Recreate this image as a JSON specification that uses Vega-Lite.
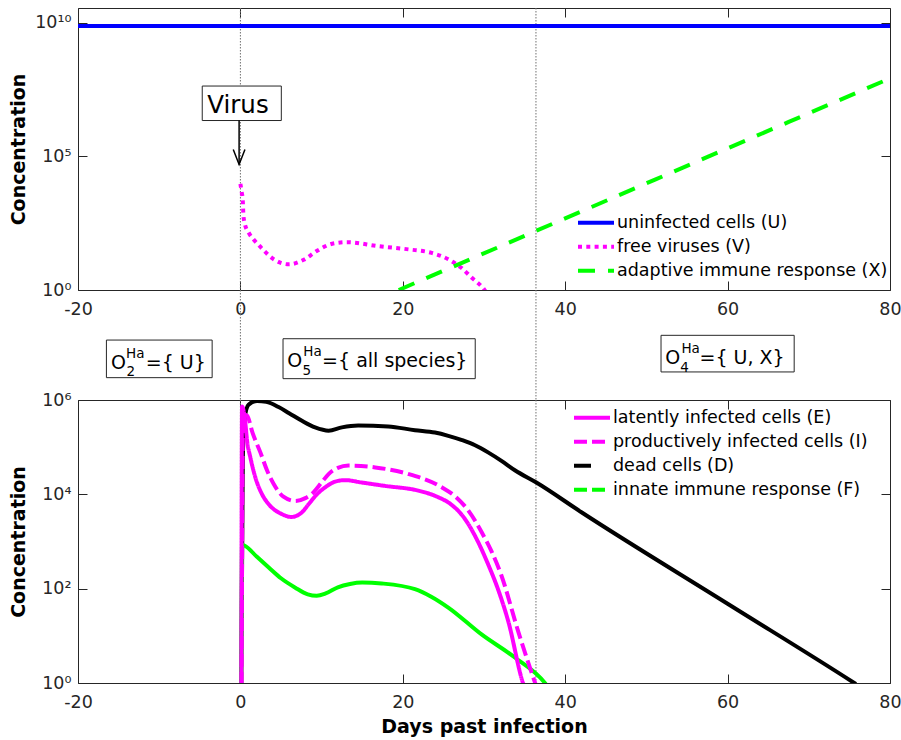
{
  "$schema": "https://vega.github.io/schema/vega-lite/v6.json",
  "autosize": {"type": "pad"},
  "padding": {"left": 8, "top": 7, "right": 5, "bottom": 5},
  "config": {
    "font": "DejaVu Sans",
    "view": {"stroke": "#262626", "strokeWidth": 1},
    "axis": {
      "grid": false, "domain": false, "tickColor": "#262626", "tickSize": -9, "tickWidth": 1,
      "labelColor": "#262626", "labelFontSize": 17.5, "labelFont": "DejaVu Sans",
      "titleFont": "DejaVu Sans", "titleFontSize": 19, "titleFontWeight": "bold", "titleColor": "#000000",
      "labelFlush": false, "labelOverlap": false
    },
    "legend": {
      "orient": "none", "symbolType": "stroke", "symbolSize": 1296, "symbolStrokeWidth": 4,
      "labelFontSize": 17.5, "labelColor": "#000000", "labelFont": "DejaVu Sans", "rowPadding": 0,
      "clipHeight": 23.3,
      "labelOffset": 1, "padding": 0, "labelLimit": 400, "titlePadding": 0
    }
  },
  "datasets": {
    "rules": [{"t": 0}, {"t": 36.4}],
    "top": [
      {"s": "uninfected cells (U)", "t": -20, "v": 7600000000},
      {"s": "uninfected cells (U)", "t": 30, "v": 7600000000},
      {"s": "uninfected cells (U)", "t": 80, "v": 7600000000},
      {"s": "free viruses (V)", "t": 0.0, "v": 9333},
      {"s": "free viruses (V)", "t": 0.17, "v": 4365},
      {"s": "free viruses (V)", "t": 0.29, "v": 2291},
      {"s": "free viruses (V)", "t": 0.37, "v": 631},
      {"s": "free viruses (V)", "t": 0.54, "v": 302},
      {"s": "free viruses (V)", "t": 1.03, "v": 138},
      {"s": "free viruses (V)", "t": 1.6, "v": 79.4},
      {"s": "free viruses (V)", "t": 2.17, "v": 51.3},
      {"s": "free viruses (V)", "t": 2.75, "v": 33.1},
      {"s": "free viruses (V)", "t": 4.2, "v": 13.5},
      {"s": "free viruses (V)", "t": 5.95, "v": 9.12},
      {"s": "free viruses (V)", "t": 7.8, "v": 13.5},
      {"s": "free viruses (V)", "t": 9.4, "v": 28.8},
      {"s": "free viruses (V)", "t": 11.3, "v": 53.7},
      {"s": "free viruses (V)", "t": 13.1, "v": 61.7},
      {"s": "free viruses (V)", "t": 17.0, "v": 43.6},
      {"s": "free viruses (V)", "t": 20.7, "v": 33.1},
      {"s": "free viruses (V)", "t": 23.55, "v": 24.5},
      {"s": "free viruses (V)", "t": 25.6, "v": 14.1},
      {"s": "free viruses (V)", "t": 27.2, "v": 6.76},
      {"s": "free viruses (V)", "t": 28.5, "v": 2.88},
      {"s": "free viruses (V)", "t": 30.0, "v": 1.07},
      {"s": "free viruses (V)", "t": 30.3, "v": 0.8},
      {"s": "adaptive immune response (X)", "t": 19.5, "v": 1},
      {"s": "adaptive immune response (X)", "t": 40, "v": 479},
      {"s": "adaptive immune response (X)", "t": 60, "v": 200000},
      {"s": "adaptive immune response (X)", "t": 80, "v": 83000000}
    ],
    "bottomSolid": [
      {"s": "dead cells (D)", "t": 0.1, "v": 0.9},
      {"s": "dead cells (D)", "t": 0.3, "v": 63000},
      {"s": "dead cells (D)", "t": 0.54, "v": 427000},
      {"s": "dead cells (D)", "t": 1.0, "v": 794000},
      {"s": "dead cells (D)", "t": 2.05, "v": 955000},
      {"s": "dead cells (D)", "t": 3.2, "v": 912000},
      {"s": "dead cells (D)", "t": 4.7, "v": 708000},
      {"s": "dead cells (D)", "t": 6.0, "v": 525000},
      {"s": "dead cells (D)", "t": 7.58, "v": 363000},
      {"s": "dead cells (D)", "t": 9.2, "v": 263000},
      {"s": "dead cells (D)", "t": 10.86, "v": 224000},
      {"s": "dead cells (D)", "t": 12.5, "v": 263000},
      {"s": "dead cells (D)", "t": 14.5, "v": 288000},
      {"s": "dead cells (D)", "t": 18.2, "v": 275000},
      {"s": "dead cells (D)", "t": 21.5, "v": 229000},
      {"s": "dead cells (D)", "t": 23.96, "v": 204000},
      {"s": "dead cells (D)", "t": 25.6, "v": 174000},
      {"s": "dead cells (D)", "t": 27.3, "v": 141000},
      {"s": "dead cells (D)", "t": 28.9, "v": 110000},
      {"s": "dead cells (D)", "t": 30.5, "v": 77600},
      {"s": "dead cells (D)", "t": 32.15, "v": 51300},
      {"s": "dead cells (D)", "t": 33.8, "v": 32400},
      {"s": "dead cells (D)", "t": 36.45, "v": 17800},
      {"s": "dead cells (D)", "t": 42, "v": 4170},
      {"s": "dead cells (D)", "t": 60, "v": 47.9},
      {"s": "dead cells (D)", "t": 75.6, "v": 1},
      {"s": "dead cells (D)", "t": 75.8, "v": 0.95},
      {"s": "innate immune response (F)", "t": 0.1, "v": 0.9},
      {"s": "innate immune response (F)", "t": 0.2, "v": 851},
      {"s": "innate immune response (F)", "t": 0.54, "v": 813},
      {"s": "innate immune response (F)", "t": 2.0, "v": 479},
      {"s": "innate immune response (F)", "t": 3.49, "v": 282},
      {"s": "innate immune response (F)", "t": 5.0, "v": 166},
      {"s": "innate immune response (F)", "t": 6.76, "v": 105},
      {"s": "innate immune response (F)", "t": 8.3, "v": 75.9},
      {"s": "innate immune response (F)", "t": 9.4, "v": 70.8},
      {"s": "innate immune response (F)", "t": 10.5, "v": 79.4},
      {"s": "innate immune response (F)", "t": 12.0, "v": 107},
      {"s": "innate immune response (F)", "t": 13.5, "v": 126},
      {"s": "innate immune response (F)", "t": 15.0, "v": 135},
      {"s": "innate immune response (F)", "t": 17.4, "v": 129},
      {"s": "innate immune response (F)", "t": 21.5, "v": 97.7},
      {"s": "innate immune response (F)", "t": 23.5, "v": 67.6},
      {"s": "innate immune response (F)", "t": 25.6, "v": 39.8},
      {"s": "innate immune response (F)", "t": 29.7, "v": 10.7},
      {"s": "innate immune response (F)", "t": 33.8, "v": 3.47},
      {"s": "innate immune response (F)", "t": 37.5, "v": 1},
      {"s": "innate immune response (F)", "t": 37.7, "v": 0.9}
    ],
    "bottomDashed": [
      {"s": "productively infected cells (I)", "t": 0.14, "v": 0.9},
      {"s": "productively infected cells (I)", "t": 0.35, "v": 500000},
      {"s": "productively infected cells (I)", "t": 0.82, "v": 468000},
      {"s": "productively infected cells (I)", "t": 1.5, "v": 200000},
      {"s": "productively infected cells (I)", "t": 2.46, "v": 77600},
      {"s": "productively infected cells (I)", "t": 3.3, "v": 31600},
      {"s": "productively infected cells (I)", "t": 4.1, "v": 16600},
      {"s": "productively infected cells (I)", "t": 5.3, "v": 8913},
      {"s": "productively infected cells (I)", "t": 6.76, "v": 7244},
      {"s": "productively infected cells (I)", "t": 8.0, "v": 8318},
      {"s": "productively infected cells (I)", "t": 8.8, "v": 10200},
      {"s": "productively infected cells (I)", "t": 10.0, "v": 17800},
      {"s": "productively infected cells (I)", "t": 10.86, "v": 26900},
      {"s": "productively infected cells (I)", "t": 12.0, "v": 36300},
      {"s": "productively infected cells (I)", "t": 13.3, "v": 40700},
      {"s": "productively infected cells (I)", "t": 16.6, "v": 37200},
      {"s": "productively infected cells (I)", "t": 20.7, "v": 26900},
      {"s": "productively infected cells (I)", "t": 24.8, "v": 14100},
      {"s": "productively infected cells (I)", "t": 26.5, "v": 8900},
      {"s": "productively infected cells (I)", "t": 28.1, "v": 4467},
      {"s": "productively infected cells (I)", "t": 29.7, "v": 1585},
      {"s": "productively infected cells (I)", "t": 30.9, "v": 631},
      {"s": "productively infected cells (I)", "t": 32.1, "v": 200},
      {"s": "productively infected cells (I)", "t": 34.2, "v": 12.6},
      {"s": "productively infected cells (I)", "t": 36.3, "v": 1},
      {"s": "productively infected cells (I)", "t": 36.5, "v": 0.8},
      {"s": "latently infected cells (E)", "t": 0.12, "v": 0.9},
      {"s": "latently infected cells (E)", "t": 0.2, "v": 724000},
      {"s": "latently infected cells (E)", "t": 0.62, "v": 309000},
      {"s": "latently infected cells (E)", "t": 0.82, "v": 138000},
      {"s": "latently infected cells (E)", "t": 1.23, "v": 60300},
      {"s": "latently infected cells (E)", "t": 1.84, "v": 22900},
      {"s": "latently infected cells (E)", "t": 2.67, "v": 10000},
      {"s": "latently infected cells (E)", "t": 3.49, "v": 6166},
      {"s": "latently infected cells (E)", "t": 5.12, "v": 3802},
      {"s": "latently infected cells (E)", "t": 6.27, "v": 3311},
      {"s": "latently infected cells (E)", "t": 7.58, "v": 4169},
      {"s": "latently infected cells (E)", "t": 8.4, "v": 6166},
      {"s": "latently infected cells (E)", "t": 9.42, "v": 10000},
      {"s": "latently infected cells (E)", "t": 10.44, "v": 14100},
      {"s": "latently infected cells (E)", "t": 11.67, "v": 18600},
      {"s": "latently infected cells (E)", "t": 12.9, "v": 20000},
      {"s": "latently infected cells (E)", "t": 14.95, "v": 17800},
      {"s": "latently infected cells (E)", "t": 17.8, "v": 15100},
      {"s": "latently infected cells (E)", "t": 21.9, "v": 12000},
      {"s": "latently infected cells (E)", "t": 23.96, "v": 9300},
      {"s": "latently infected cells (E)", "t": 26.0, "v": 6000},
      {"s": "latently infected cells (E)", "t": 27.2, "v": 3800},
      {"s": "latently infected cells (E)", "t": 28.06, "v": 2350},
      {"s": "latently infected cells (E)", "t": 29.3, "v": 955},
      {"s": "latently infected cells (E)", "t": 30.5, "v": 331},
      {"s": "latently infected cells (E)", "t": 31.7, "v": 100},
      {"s": "latently infected cells (E)", "t": 33.0, "v": 20},
      {"s": "latently infected cells (E)", "t": 34.8, "v": 1},
      {"s": "latently infected cells (E)", "t": 35.0, "v": 0.8}
    ],
    "virusBox": [{"x1": -4.7, "x2": 5.04, "y1": 42700000, "y2": 2190000}],
    "virusLabel": [{"t": -0.3, "v": 4260000, "label": "Virus"}],
    "arrow": [{"t": -0.16, "v1": 2190000, "v2": 50000}],
    "boxes": [
      {"x1": -16.5, "x2": -3.48, "y1": 0.545, "y2": 0.203},
      {"x1": 5.25, "x2": 28.92, "y1": 0.557, "y2": 0.194},
      {"x1": 51.8, "x2": 68.2, "y1": 0.588, "y2": 0.255}
    ],
    "boxMain": [
      {"t": -15.95, "f": 0.282, "label": "O"},
      {"t": -11.65, "f": 0.282, "label": "={ U}"},
      {"t": 5.76, "f": 0.30, "label": "O"},
      {"t": 10.06, "f": 0.30, "label": "={ all species}"},
      {"t": 52.32, "f": 0.325, "label": "O"},
      {"t": 56.54, "f": 0.325, "label": "={ U, X}"}
    ],
    "boxScript": [
      {"t": -14.08, "f": 0.385, "label": "Ha"},
      {"t": -14.04, "f": 0.218, "label": "2"},
      {"t": 7.75, "f": 0.40, "label": "Ha"},
      {"t": 7.66, "f": 0.227, "label": "5"},
      {"t": 54.31, "f": 0.43, "label": "Ha"},
      {"t": 54.18, "f": 0.255, "label": "4"}
    ]
  },
  "spacing": 0,
  "bounds": "flush",
  "resolve": {
    "scale": {"color": "independent", "strokeDash": "independent"},
    "legend": {"color": "independent", "strokeDash": "independent"}
  },
  "vconcat": [
    {
      "width": 812,
      "height": 282,
      "resolve": {"axis": {"x": "independent", "y": "independent"}},
      "layer": [
        {
          "data": {"name": "rules"},
          "mark": {"type": "rule", "color": "#707070", "strokeWidth": 1, "strokeDash": [1.5, 1.5]},
          "encoding": {
            "x": {"field": "t", "type": "quantitative", "scale": {"domain": [-20, 80], "nice": false, "zero": false},
                  "axis": {"orient": "top", "labels": false, "title": null, "values": [-20, 0, 20, 40, 60, 80]}}
          }
        },
        {
          "data": {"name": "top"},
          "mark": {"type": "line", "strokeWidth": 4, "interpolate": "monotone", "clip": true, "strokeCap": "butt"},
          "encoding": {
            "x": {"field": "t", "type": "quantitative", "scale": {"domain": [-20, 80], "nice": false, "zero": false},
                  "axis": {"orient": "bottom", "title": null, "values": [-20, 0, 20, 40, 60, 80], "labelPadding": 19,
                           "labelExpr": "datum.value < 0 ? '-' + abs(datum.value) : '' + datum.value"}},
            "y": {"field": "v", "type": "quantitative", "scale": {"type": "log", "domain": [1, 35500000000], "nice": false},
                  "axis": {"orient": "left", "title": "Concentration", "titleX": -50, "titleBaseline": "bottom",
                           "values": [1, 100000, 10000000000], "labelPadding": 16,
                           "labelExpr": "datum.value == 1 ? '10⁰' : (datum.value == 100000 ? '10⁵' : '10¹⁰')"}},
            "color": {"field": "s", "type": "nominal",
                      "scale": {"domain": ["uninfected cells (U)", "free viruses (V)", "adaptive immune response (X)"],
                                "range": ["#0000ff", "#ff00ff", "#00ff00"]},
                      "legend": {"title": null, "legendX": 498, "legendY": 203}},
            "strokeDash": {"field": "s", "type": "nominal",
                           "scale": {"domain": ["uninfected cells (U)", "free viruses (V)", "adaptive immune response (X)"],
                                     "range": [[1, 0], [4, 4.3], [17, 13]]},
                           "legend": {"title": null, "legendX": 498, "legendY": 203}}
          }
        },
        {
          "data": {"name": "virusBox"},
          "mark": {"type": "rect", "fill": "#ffffff", "stroke": "#262626", "strokeWidth": 1},
          "encoding": {
            "x": {"field": "x1", "type": "quantitative", "scale": {"domain": [-20, 80], "nice": false, "zero": false}, "axis": null},
            "x2": {"field": "x2"},
            "y": {"field": "y1", "type": "quantitative", "scale": {"type": "log", "domain": [1, 35500000000], "nice": false},
                  "axis": {"orient": "right", "labels": false, "title": null, "values": [1, 100000, 10000000000]}},
            "y2": {"field": "y2"}
          }
        },
        {
          "data": {"name": "virusLabel"},
          "mark": {"type": "text", "fontSize": 24.5, "align": "center", "baseline": "alphabetic", "color": "#000000"},
          "encoding": {
            "x": {"field": "t", "type": "quantitative", "scale": {"domain": [-20, 80]}, "axis": null},
            "y": {"field": "v", "type": "quantitative", "scale": {"type": "log", "domain": [1, 35500000000]}, "axis": null},
            "text": {"field": "label"}
          }
        },
        {
          "data": {"name": "arrow"},
          "mark": {"type": "rule", "color": "#000000", "strokeWidth": 1.5},
          "encoding": {
            "x": {"field": "t", "type": "quantitative", "scale": {"domain": [-20, 80]}, "axis": null},
            "y": {"field": "v1", "type": "quantitative", "scale": {"type": "log", "domain": [1, 35500000000]}, "axis": null},
            "y2": {"field": "v2"}
          }
        },
        {
          "data": {"name": "arrow"},
          "mark": {"type": "point", "shape": "M-0.39,-1L0,0L0.39,-1", "size": 900, "filled": false, "color": "#000000", "strokeWidth": 1.5, "opacity": 1},
          "encoding": {
            "x": {"field": "t", "type": "quantitative", "scale": {"domain": [-20, 80]}, "axis": null},
            "y": {"field": "v2", "type": "quantitative", "scale": {"type": "log", "domain": [1, 35500000000]}, "axis": null}
          }
        }
      ]
    },
    {
      "width": 812,
      "height": 110,
      "view": {"stroke": null},
      "layer": [
        {
          "data": {"name": "rules"},
          "mark": {"type": "rule", "color": "#707070", "strokeWidth": 1, "strokeDash": [1.5, 1.5]},
          "encoding": {
            "x": {"field": "t", "type": "quantitative", "scale": {"domain": [-20, 80], "nice": false, "zero": false}, "axis": null}
          }
        },
        {
          "data": {"name": "boxes"},
          "mark": {"type": "rect", "fill": "#ffffff", "stroke": "#262626", "strokeWidth": 1},
          "encoding": {
            "x": {"field": "x1", "type": "quantitative", "scale": {"domain": [-20, 80], "nice": false, "zero": false}, "axis": null},
            "x2": {"field": "x2"},
            "y": {"field": "y1", "type": "quantitative", "scale": {"domain": [0, 1], "nice": false}, "axis": null},
            "y2": {"field": "y2"}
          }
        },
        {
          "data": {"name": "boxMain"},
          "mark": {"type": "text", "fontSize": 19, "align": "left", "baseline": "alphabetic", "color": "#000000"},
          "encoding": {
            "x": {"field": "t", "type": "quantitative", "scale": {"domain": [-20, 80]}, "axis": null},
            "y": {"field": "f", "type": "quantitative", "scale": {"domain": [0, 1]}, "axis": null},
            "text": {"field": "label"}
          }
        },
        {
          "data": {"name": "boxScript"},
          "mark": {"type": "text", "fontSize": 13.5, "align": "left", "baseline": "alphabetic", "color": "#000000"},
          "encoding": {
            "x": {"field": "t", "type": "quantitative", "scale": {"domain": [-20, 80]}, "axis": null},
            "y": {"field": "f", "type": "quantitative", "scale": {"domain": [0, 1]}, "axis": null},
            "text": {"field": "label"}
          }
        }
      ]
    },
    {
      "width": 812,
      "height": 283,
      "resolve": {"axis": {"x": "independent", "y": "independent"}},
      "layer": [
        {
          "data": {"name": "rules"},
          "mark": {"type": "rule", "color": "#707070", "strokeWidth": 1, "strokeDash": [1.5, 1.5]},
          "encoding": {
            "x": {"field": "t", "type": "quantitative", "scale": {"domain": [-20, 80], "nice": false, "zero": false},
                  "axis": {"orient": "top", "labels": false, "title": null, "values": [-20, 0, 20, 40, 60, 80]}}
          }
        },
        {
          "data": {"name": "bottomSolid"},
          "mark": {"type": "line", "strokeWidth": 4, "interpolate": "monotone", "clip": true, "strokeCap": "butt"},
          "encoding": {
            "x": {"field": "t", "type": "quantitative", "scale": {"domain": [-20, 80], "nice": false, "zero": false}, "axis": null},
            "y": {"field": "v", "type": "quantitative", "scale": {"type": "log", "domain": [1, 1000000], "nice": false},
                  "axis": {"orient": "right", "labels": false, "title": null, "values": [1, 100, 10000, 1000000]}},
            "color": {"field": "s", "type": "nominal",
                      "scale": {"domain": ["latently infected cells (E)", "productively infected cells (I)", "dead cells (D)", "innate immune response (F)"],
                                "range": ["#ff00ff", "#ff00ff", "#000000", "#00ff00"]}}
          }
        },
        {
          "data": {"name": "bottomDashed"},
          "mark": {"type": "line", "strokeWidth": 4, "interpolate": "monotone", "clip": true, "strokeCap": "butt"},
          "encoding": {
            "x": {"field": "t", "type": "quantitative", "scale": {"domain": [-20, 80], "nice": false, "zero": false},
                  "axis": {"orient": "bottom", "title": "Days past infection", "titleY": 49, "titleBaseline": "alphabetic",
                           "values": [-20, 0, 20, 40, 60, 80], "labelPadding": 19,
                           "labelExpr": "datum.value < 0 ? '-' + abs(datum.value) : '' + datum.value"}},
            "y": {"field": "v", "type": "quantitative", "scale": {"type": "log", "domain": [1, 1000000], "nice": false},
                  "axis": {"orient": "left", "title": "Concentration", "titleX": -50, "titleBaseline": "bottom",
                           "values": [1, 100, 10000, 1000000], "labelPadding": 16,
                           "labelExpr": "datum.value == 1 ? '10⁰' : (datum.value == 100 ? '10²' : (datum.value == 10000 ? '10⁴' : '10⁶'))"}},
            "color": {"field": "s", "type": "nominal",
                      "scale": {"domain": ["latently infected cells (E)", "productively infected cells (I)", "dead cells (D)", "innate immune response (F)"],
                                "range": ["#ff00ff", "#ff00ff", "#000000", "#00ff00"]},
                      "legend": {"title": null, "legendX": 494, "legendY": 6}},
            "strokeDash": {"field": "s", "type": "nominal",
                           "scale": {"domain": ["latently infected cells (E)", "productively infected cells (I)", "dead cells (D)", "innate immune response (F)"],
                                     "range": [[1, 0], [13, 5], [17, 19], [13, 5]]},
                           "legend": {"title": null, "legendX": 494, "legendY": 6}}
          }
        }
      ]
    }
  ]
}
